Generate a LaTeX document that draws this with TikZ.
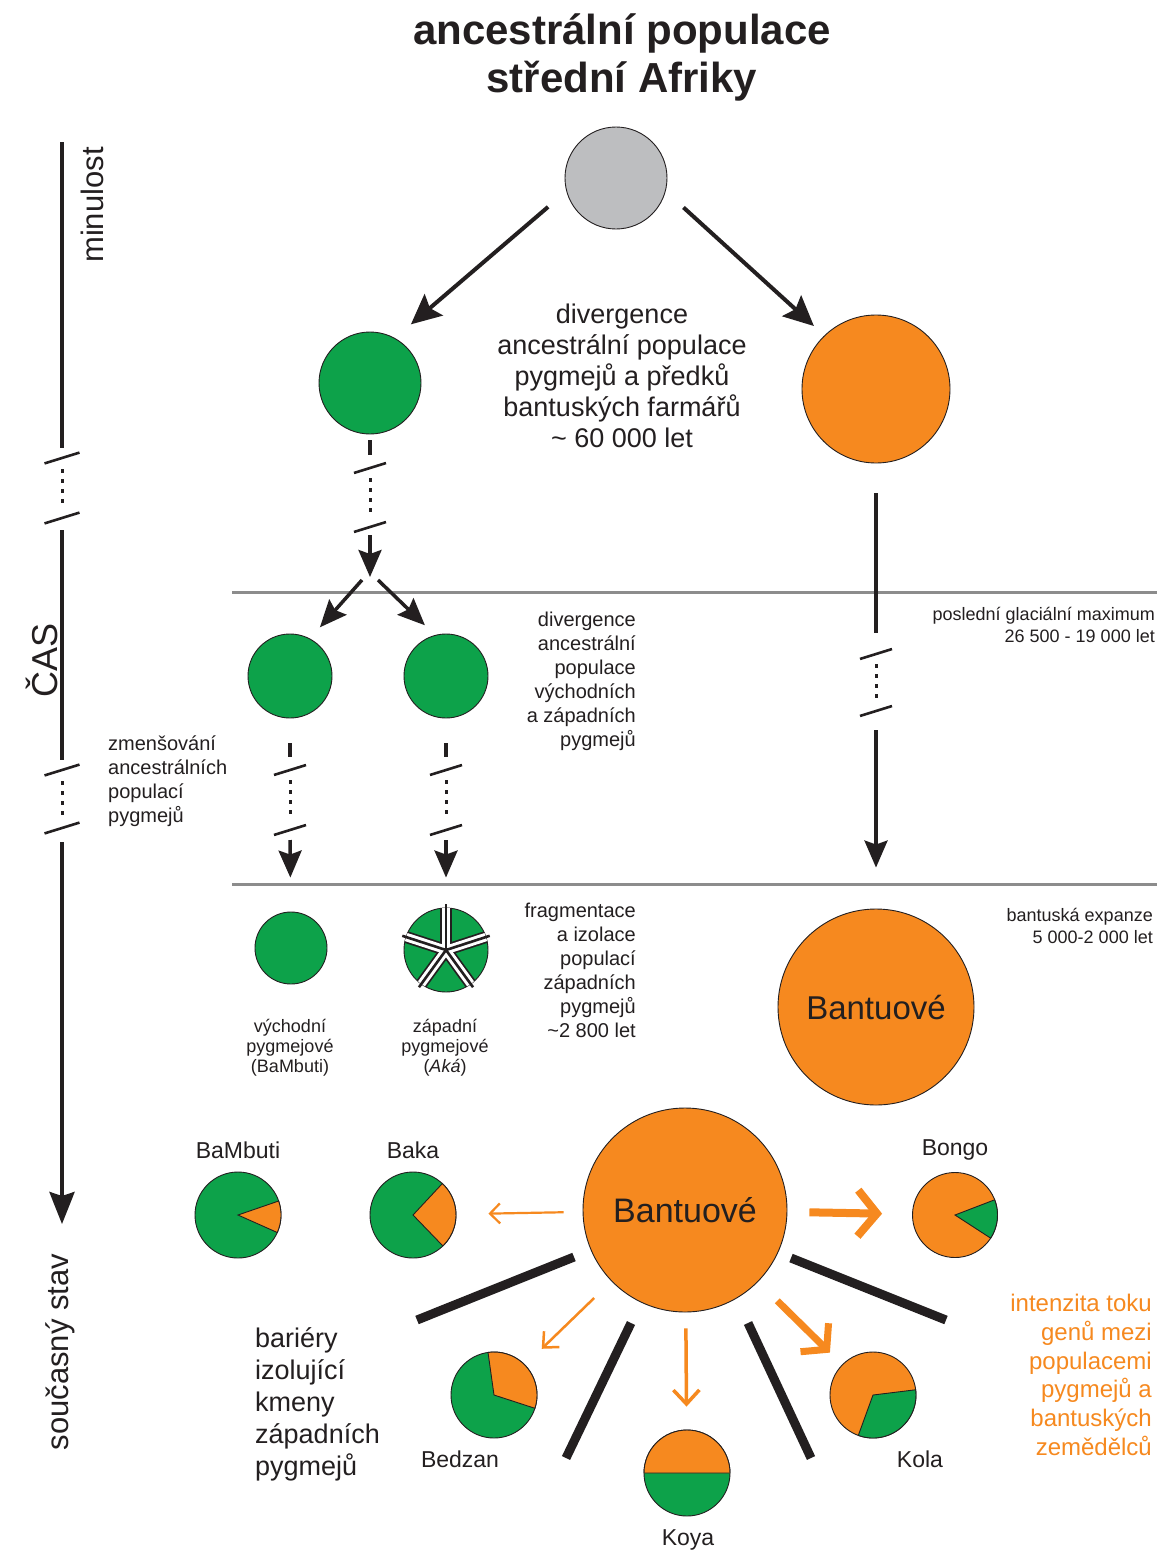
\documentclass[tikz,border=0pt]{standalone}
\usepackage{fontspec}
\setmainfont{Liberation Sans}
\usetikzlibrary{arrows.meta,calc,shapes.geometric}

\definecolor{pyg}{HTML}{0DA24A}
\definecolor{ban}{HTML}{F6891F}
\definecolor{ancgray}{HTML}{BDBEC0}
\definecolor{ink}{HTML}{231F20}
\definecolor{rulegray}{HTML}{8C8C8C}

\newcommand\fs[2]{\fontsize{#1bp}{#2bp}\selectfont}
% short slanted mark that interrupts a time line
\newcommand\cutmark[3]{\draw[cutline] ({#1-#3},{#2+0.31*#3}) -- ({#1+#3},{#2-0.31*#3});}

\tikzset{
  bigtip/.tip={Stealth[length=30bp,width=28bp,inset=5bp]},
  chaintip/.tip={Stealth[length=27bp,width=23bp,inset=4bp]},
  axistip/.tip={Stealth[length=32bp,width=25bp,inset=4bp]},
}

\begin{document}
\begin{tikzpicture}[x=1bp,y=-1bp,
  pop/.style={circle,draw=ink,line width=0.9bp,inner sep=0pt,minimum size=#1},
  txt/.style={text=ink,inner sep=0pt},
  lnk/.style={draw=ink,line width=3.5bp},
  dots/.style={draw=ink,line width=3bp,dash pattern=on 4bp off 6bp},
  cutline/.style={draw=ink,line width=2.6bp},
  rulel/.style={draw=rulegray,line width=3bp},
  barrier/.style={draw=ink,line width=9bp},
  wedge/.style={draw=ink,line width=0.9bp},
  lbl/.style={txt,font=\fs{23}{26}},
]
% canvas
\fill[white] (0,0) rectangle (1160,1551);
\useasboundingbox (0,0) rectangle (1160,1551);

% heading
\node[txt,font={\bfseries\fs{42}{48}},align=center] (title) at (622,57) {ancestrální populace\\střední Afriky};

% time axis
\coordinate (tTop) at (62,142);
\coordinate (tEnd) at (62,1224);
\draw[lnk,line width=4bp] (tTop) -- (62,448);
\cutmark{62}{458}{17.5}
\draw[dots] (62,469) -- (62,508);
\cutmark{62}{518}{17.5}
\draw[lnk,line width=4bp] (62,530) -- (62,760);
\cutmark{62}{770}{17.5}
\draw[dots] (62,781) -- (62,818);
\cutmark{62}{828}{17.5}
\draw[lnk,line width=4bp,-axistip] (62,842) -- (tEnd);
\node[txt,rotate=90,font=\fs{31}{36}] (past) at (92,205) {minulost};
\node[txt,rotate=90,font=\fs{36}{42}] (time) at (42,660) {ČAS};
\node[txt,rotate=90,font=\fs{31}{36}] (present) at (60,1352) {současný stav};

% epoch rules
\draw[rulel] (232,592) -- (1157,592);
\draw[rulel] (232,884) -- (1157,884);

% first divergence
\node[pop=102bp,fill=ancgray] (anc) at (616,178) {};
\node[pop=102bp,fill=pyg] (g1) at (370,383) {};
\node[pop=148bp,fill=ban] (o1) at (876,389) {};
\draw[lnk,line width=4bp,-bigtip,shorten <=24bp,shorten >=21bp] (anc.195) -- (g1.61);
\draw[lnk,line width=4bp,-bigtip,shorten <=24bp,shorten >=14bp] (anc.-15) -- (o1.134);
\node[txt,font=\fs{27}{31},align=center] (div1) at (622,376)
  {divergence\\ancestrální populace\\pygmejů a předků\\bantuských farmářů\\\textasciitilde{} 60 000 let};

% pygmy line down to the split
\coordinate (split) at (370,577);
\draw[lnk,shorten <=6bp] (g1.south) -- ++(0,21);
\cutmark{370}{468}{16}
\draw[dots] (370,478) -- (370,514);
\cutmark{370}{527}{16}
\draw[lnk,-chaintip] (370,535) -- (split);

% second divergence
\node[pop=84bp,fill=pyg] (g2a) at (290,676) {};
\node[pop=84bp,fill=pyg] (g2b) at (446,676) {};
\draw[lnk,-chaintip,shorten >=15bp] ([shift={(-8,3)}]split) -- (g2a.62);
\draw[lnk,-chaintip,shorten >=14bp] ([shift={(8,3)}]split) -- (g2b.105);
\node[txt,font=\fs{20}{24},align=right,anchor=east] (div2) at (636,681)
  {divergence\\ancestrální\\populace\\východních\\a západních\\pygmejů};
\node[txt,font=\fs{20}{24},align=left,anchor=west] (shrink) at (108,781)
  {zmenšování\\ancestrálních\\populací\\pygmejů};

% third row
\node[pop=72bp,fill=pyg] (g3a) at (291,948) {};
\node[pop=84bp,fill=pyg] (g3b) at (446,950) {};
\foreach \n/\x in {g2a/290,g2b/446}{
  \draw[lnk,shorten <=25bp] (\n.south) -- ++(0,39);
  \cutmark{\x}{770}{16}
  \draw[dots] (\x,780) -- (\x,820);
  \cutmark{\x}{830}{16}
}
\draw[lnk,-chaintip,shorten >=34bp] (290,840) -- (g3a);
\draw[lnk,-chaintip,shorten >=30bp] (446,840) -- (g3b);

% fragmented western population
\begin{scope}
  \clip (g3b.center) circle[radius=42bp];
  \foreach \a in {90,162,234,306,18}
    \draw[ink,line width=12bp] (g3b.center) -- ++(\a:50bp);
  \foreach \a in {90,162,234,306,18}
    \draw[white,line width=8.5bp] (g3b.center) -- ++(\a:50bp);
\end{scope}
\foreach \a in {90,162,234,306,18}
  \draw[ink,line width=2.6bp] (g3b.center) -- ++(\a:46bp);

\node[txt,font=\fs{18}{20},align=center] (eastlbl) at (290,1048) {východní\\pygmejové\\(BaMbuti)};
\node[txt,font=\fs{18}{20},align=center] (westlbl) at (445,1048) {západní\\pygmejové\\(\textit{Aká})};
\node[txt,font=\fs{20}{24},align=right,anchor=east] (frag) at (636,970)
  {fragmentace\\a izolace\\populací\\západních\\pygmejů\\\textasciitilde2 800 let};

% Bantu line
\draw[lnk,shorten <=30bp] (o1.south) -- (876,633);
\cutmark{876}{654}{16}
\draw[dots] (876,664) -- (876,702);
\cutmark{876}{711}{16}
\node[pop=196bp,fill=ban,font=\fs{33}{38},text=ink] (o2) at (876,1007) {Bantuové};
\draw[lnk,-chaintip,shorten >=41bp] (876,730) -- (o2);
\node[txt,font=\fs{18}{22},align=right,anchor=east] (lgm) at (1155,625)
  {poslední glaciální maximum\\26 500 - 19 000 let};
\node[txt,font=\fs{18}{22},align=right,anchor=east] (exp) at (1153,926)
  {bantuská expanze\\5 000-2 000 let};

% present state: admixture pies
\node[pop=204bp,fill=ban,font=\fs{34}{40},text=ink] (bc) at (685,1210) {Bantuové};

\node[pop=86bp,fill=pyg] (pBaM) at (238,1215) {};
\filldraw[fill=ban,wedge] (pBaM.center) -- ++(-24:43bp) arc[start angle=-24,end angle=19,radius=43bp] -- cycle;
\node[lbl] (lBaM) at (238,1150) {BaMbuti};

\node[pop=86bp,fill=pyg] (pBaka) at (413,1215) {};
\filldraw[fill=ban,wedge] (pBaka.center) -- ++(-46:43bp) arc[start angle=-46,end angle=47,radius=43bp] -- cycle;
\node[lbl] (lBaka) at (413,1150) {Baka};

\node[pop=85bp,fill=ban] (pBongo) at (955,1215) {};
\filldraw[fill=pyg,wedge] (pBongo.center) -- ++(-33:42.5bp) arc[start angle=-33,end angle=21,radius=42.5bp] -- cycle;
\node[lbl] (lBongo) at (955,1150) {Bongo};

\node[pop=86bp,fill=pyg] (pBed) at (494,1395) {};
\filldraw[fill=ban,wedge] (pBed.center) -- ++(-18:43bp) arc[start angle=-18,end angle=98,radius=43bp] -- cycle;
\node[lbl] (lBed) at (460,1459) {Bedzan};

\node[pop=86bp,fill=pyg] (pKoya) at (687,1473) {};
\filldraw[fill=ban,wedge] (pKoya.center) -- ++(0:43bp) arc[start angle=0,end angle=180,radius=43bp] -- cycle;
\node[lbl] (lKoya) at (688,1540) {Koya};

\node[pop=86bp,fill=ban] (pKola) at (873,1395) {};
\filldraw[fill=pyg,wedge] (pKola.center) -- ++(-110:43bp) arc[start angle=-110,end angle=7,radius=43bp] -- cycle;
\node[lbl] (lKola) at (920,1459) {Kola};

% gene flow from the Bantu
\draw[ban,line width=2.2bp,-{Straight Barb[length=10bp,width=20bp]},shorten <=19bp,shorten >=32bp] (bc) -- (pBaka);
\draw[ban,line width=8bp,-{Straight Barb[length=19bp,width=46bp]},shorten <=22bp,shorten >=30bp] (bc) -- (pBongo);
\draw[ban,line width=2.5bp,-{Straight Barb[length=12bp,width=22bp]},shorten <=24bp,shorten >=23bp] (bc) -- (pBed);
\draw[ban,line width=3.5bp,-{Straight Barb[length=14bp,width=26bp]},shorten <=16bp,shorten >=23bp] (bc) -- (pKoya);
\draw[ban,line width=7bp,-{Straight Barb[length=17bp,width=40bp]},shorten <=27bp,shorten >=17bp] (bc) -- (pKola);

% barriers between tribes
\draw[barrier] (574,1257) -- (417,1320);
\draw[barrier] (631,1323) -- (566,1458);
\draw[barrier] (748,1323) -- (811,1458);
\draw[barrier] (791,1258) -- (946,1320);

\node[txt,font=\fs{27}{32},align=left,anchor=west] (barr) at (255,1404)
  {bariéry\\izolující\\kmeny\\západních\\pygmejů};
\node[txt,text=ban,font=\fs{24}{28.8},align=right,anchor=east] (flowtxt) at (1152,1375)
  {intenzita toku\\genů mezi\\populacemi\\pygmejů a\\bantuských\\zemědělců};
\end{tikzpicture}
\end{document}
